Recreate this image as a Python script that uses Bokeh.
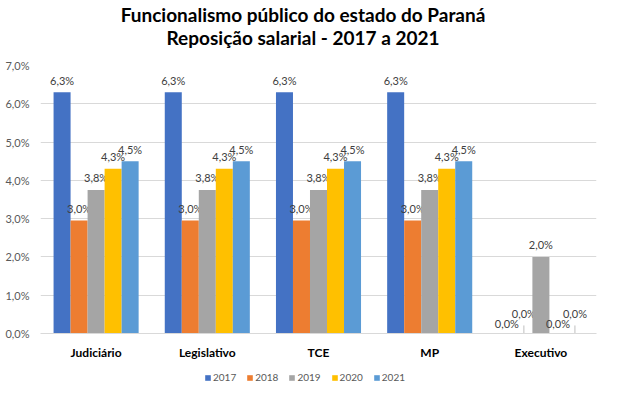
from bokeh.plotting import figure
from bokeh.layouts import column
from bokeh.models import (ColumnDataSource, FactorRange, Legend, LegendItem, Label, Range1d,
                          CustomJSTickFormatter, FixedTicker)
from bokeh.transform import dodge
from bokeh.core.properties import value
from bokeh.embed import file_html
from bokeh.resources import INLINE

title_1 = "Funcionalismo público do estado do Paraná"
title_2 = "Reposição salarial - 2017 a 2021"
categories = ["Judiciário", "Legislativo", "TCE", "MP", "Executivo"]
years = ["2017", "2018", "2019", "2020", "2021"]
v2017 = [6.3, 6.3, 6.3, 6.3, 0.0]
v2018 = [2.95, 2.95, 2.95, 2.95, 0.0]
v2019 = [3.75, 3.75, 3.75, 3.75, 2.0]
v2020 = [4.3, 4.3, 4.3, 4.3, 0.0]
v2021 = [4.5, 4.5, 4.5, 4.5, 0.0]
series = [v2017, v2018, v2019, v2020, v2021]
colors = ["#4472C4", "#ED7D31", "#A5A5A5", "#FFC000", "#5B9BD5"]
yticks = [0, 1, 2, 3, 4, 5, 6, 7]

FONT = "Lato"
bar_w = 0.153
W = 606
LEFT, RIGHT = 40, 10


def strip(h, **kw):
    f = figure(width=W, height=h, output_backend="svg", toolbar_location=None,
               x_axis_location=None, y_axis_location=None,
               min_border_left=LEFT, min_border_right=RIGHT,
               min_border_top=0, min_border_bottom=0, **kw)
    f.outline_line_color = None
    f.grid.grid_line_color = None
    f.background_fill_color = "white"
    f.border_fill_color = "white"
    return f


# ---- title strip ----
tf = strip(57, x_range=(0, 1), y_range=(0, 1))
for txt, yb in [(title_1, 43.5), (title_2, 20.0)]:
    tf.add_layout(Label(x=262.5, y=yb, x_units="screen", y_units="screen", text=txt,
                        text_align="center", text_baseline="alphabetic",
                        text_font=FONT, text_font_size="19px", text_font_style="bold",
                        text_color="#000000"))

# ---- main chart ----
p = figure(x_range=FactorRange(*categories), y_range=(0, 7), width=W, height=312,
           output_backend="svg", toolbar_location=None,
           min_border_left=LEFT, min_border_right=RIGHT, min_border_top=8, min_border_bottom=36)
p.background_fill_color = "white"
p.border_fill_color = "white"
p.outline_line_color = None

sources = []
zero_count = [0] * len(categories)
for i, (yr, vals, col) in enumerate(zip(years, series, colors)):
    off = (i - 2) * bar_w
    labels, yoffs, lead = [], [], []
    for j, v in enumerate(vals):
        labels.append(format(v + 1e-9, ".1f").replace(".", ",") + "%")
        if v == 0:
            # zero labels staggered as in the original to avoid overlap
            k = zero_count[j]
            zero_count[j] += 1
            yoffs.append(-10 if k % 2 == 0 else -20)
            lead.append(k % 2 == 1)
        else:
            yoffs.append(-12)
            lead.append(False)
    src = ColumnDataSource(dict(cat=categories, val=vals, lab=labels, yoff=yoffs))
    sources.append((off, src))
    p.vbar(x=dodge("cat", off, range=p.x_range), top="val", width=bar_w,
           source=src, fill_color=col, line_color=None)
    p.text(x=dodge("cat", off, range=p.x_range), y="val", text="lab", source=src,
           y_offset="yoff", text_align="center", text_baseline="middle",
           text_font=value(FONT), text_font_size="11px", text_color="#404040")
    lc = [c for c, l in zip(categories, lead) if l]
    if lc:
        lsrc = ColumnDataSource(dict(cat=lc, y0=[0] * len(lc), y1=[0.21] * len(lc)))
        p.segment(x0=dodge("cat", off, range=p.x_range), x1=dodge("cat", off, range=p.x_range),
                  y0="y0", y1="y1", source=lsrc, line_color="#bfbfbf", line_width=1)

p.ygrid.grid_line_color = "#d9d9d9"
p.ygrid.grid_line_width = 1
p.xgrid.grid_line_color = None
p.yaxis.ticker = FixedTicker(ticks=yticks)
p.yaxis.formatter = CustomJSTickFormatter(code="return tick.toFixed(1).replace('.', ',') + '%';")
p.yaxis.axis_line_color = None
p.yaxis.major_tick_line_color = None
p.yaxis.minor_tick_line_color = None
p.yaxis.major_tick_out = 0
p.yaxis.major_label_text_font = FONT
p.yaxis.major_label_text_font_size = "11px"
p.yaxis.major_label_text_color = "#595959"
p.yaxis.major_label_standoff = 11

p.xaxis.axis_line_color = "#d9d9d9"
p.xaxis.major_tick_line_color = None
p.xaxis.minor_tick_line_color = None
p.xaxis.major_tick_out = 0
p.xaxis.major_label_text_font = FONT
p.xaxis.major_label_text_font_size = "12px"
p.xaxis.major_label_text_font_style = "bold"
p.xaxis.major_label_text_color = "#000000"
p.xaxis.major_label_standoff = 11

# ---- legend strip (legend swatches take their style from zero-height bars) ----
lg = strip(16, x_range=p.x_range, y_range=Range1d(1000, 1001))
items = []
for yr, col, (off, src) in zip(years, colors, sources):
    r = lg.vbar(x=dodge("cat", off, range=lg.x_range), top="val", bottom="val", width=bar_w,
                source=src, fill_color=col, line_color=None)
    items.append(LegendItem(label=yr, renderers=[r]))
legend = Legend(items=items, orientation="horizontal", location=(164, 2),
                glyph_width=7, glyph_height=7, label_standoff=2, spacing=10,
                label_text_font=FONT, label_text_font_size="10px", label_text_color="#595959",
                label_height=12, padding=0, margin=0, border_line_color=None,
                background_fill_alpha=0)
lg.add_layout(legend, "center")

layout = column(tf, p, lg, spacing=0)
open("out.html", "w").write(file_html(layout, INLINE))
